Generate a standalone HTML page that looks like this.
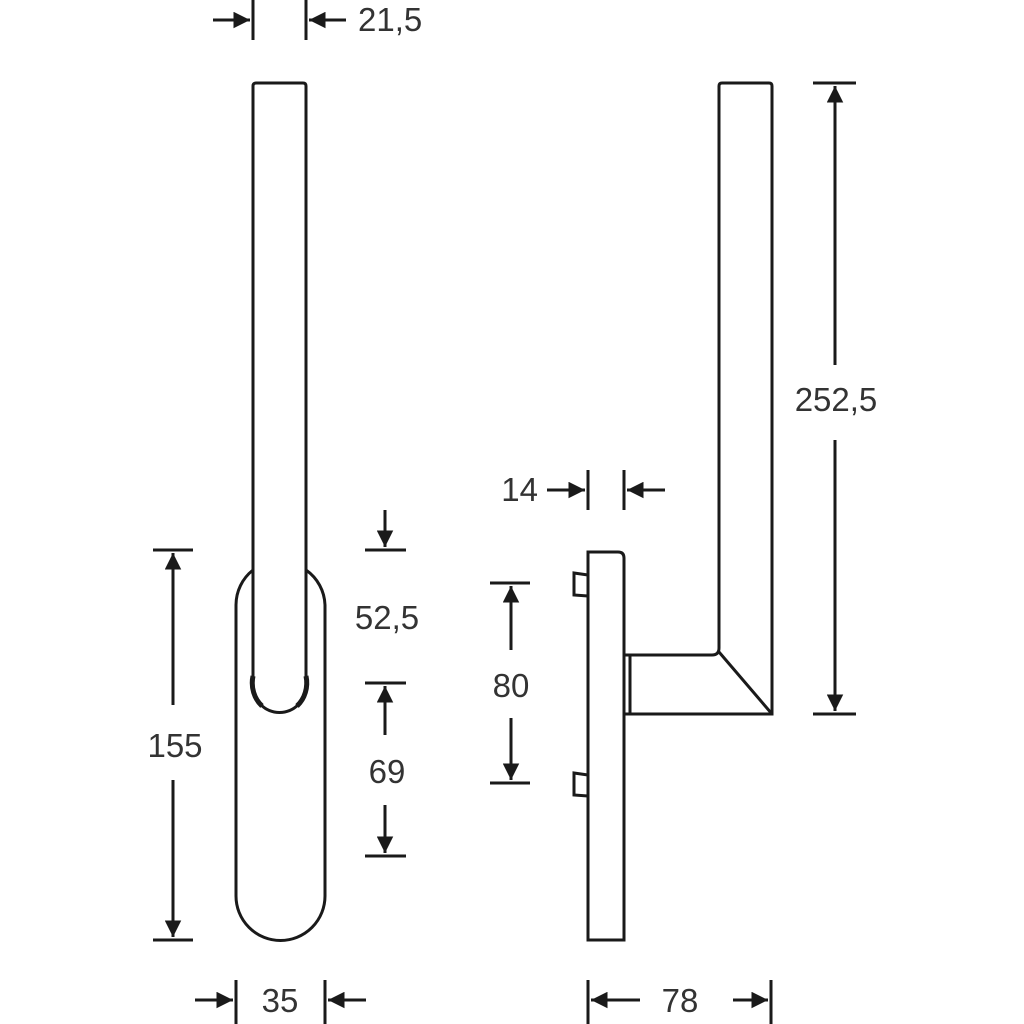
<!DOCTYPE html>
<html><head><style>html,body{margin:0;padding:0;background:#fff}svg{display:block}text{font-family:"Liberation Sans",sans-serif;font-size:33px;fill:#333}</style></head>
<body>
<svg width="1024" height="1024" viewBox="0 0 1024 1024">
<defs>
<marker id="a" viewBox="0 0 10 10" refX="10" refY="5" markerWidth="7" markerHeight="5.5" orient="auto" markerUnits="strokeWidth"><path d="M0,0L10,5L0,10z" fill="#1a1a1a"/></marker>
</defs>
<g fill="none" stroke="#1a1a1a" stroke-width="3">
<path d="M253,570 A44.5,44.5 0 0 0 236,605 L236,896 A44.5,44.5 0 0 0 325,896 L325,605 A44.5,44.5 0 0 0 306,570"/>
<path d="M253,86 Q253,83 256,83 L303,83 Q306,83 306,86 L306,686 A26.5,26.5 0 0 1 253,686 Z" fill="#fff"/>
<path d="M253,676 A27,30 0 0 0 262,706" stroke-width="5"/>
<path d="M306,676 A27,30 0 0 1 297,706" stroke-width="5"/>
<path d="M588,552 L618,552 Q624,552 624,558 L624,940 L588,940 Z"/>
<path d="M588,575 L574,573 L574,595 L588,596"/>
<path d="M588,775 L574,773 L574,795 L588,796"/>
<path d="M624,655 L630,655 L630,714 L624,714"/>
<path d="M630,655 L712,655 Q719,655 719,648 L719,86 Q719,83 722,83 L769,83 Q772,83 772,86 L772,714 L630,714"/>
<path d="M719,652 L772,714"/>
<path d="M253,0V40M306,0V40"/>
<path d="M213,20H250" marker-end="url(#a)"/><path d="M346,20H309" marker-end="url(#a)"/>
<path d="M153,550H193M153,940H193"/>
<path d="M173,705V553" marker-end="url(#a)"/><path d="M173,780V937" marker-end="url(#a)"/>
<path d="M365,550H406M365,683H406M365,856H406"/>
<path d="M385,510V547" marker-end="url(#a)"/><path d="M385,735V686" marker-end="url(#a)"/><path d="M385,805V853" marker-end="url(#a)"/>
<path d="M236,980V1024M325,980V1024"/>
<path d="M195,1000H233" marker-end="url(#a)"/><path d="M366,1000H328" marker-end="url(#a)"/>
<path d="M490,583H530M490,783H530"/>
<path d="M511,650V586" marker-end="url(#a)"/><path d="M511,718V780" marker-end="url(#a)"/>
<path d="M588,470V510M624,470V510"/>
<path d="M547,490H585" marker-end="url(#a)"/><path d="M665,490H627" marker-end="url(#a)"/>
<path d="M813,83H856M813,714H856"/>
<path d="M835,365V86" marker-end="url(#a)"/><path d="M835,440V711" marker-end="url(#a)"/>
<path d="M588,980V1024M771,980V1024"/>
<path d="M640,1000H591" marker-end="url(#a)"/><path d="M733,1000H768" marker-end="url(#a)"/>
</g>
<text x="358" y="31">21,5</text>
<text x="175" y="757" text-anchor="middle">155</text>
<text x="387" y="629" text-anchor="middle">52,5</text>
<text x="387" y="783" text-anchor="middle">69</text>
<text x="280" y="1012" text-anchor="middle">35</text>
<text x="511" y="697" text-anchor="middle">80</text>
<text x="538" y="501" text-anchor="end">14</text>
<text x="836" y="411" text-anchor="middle">252,5</text>
<text x="680" y="1012" text-anchor="middle">78</text>
</svg>
</body></html>
